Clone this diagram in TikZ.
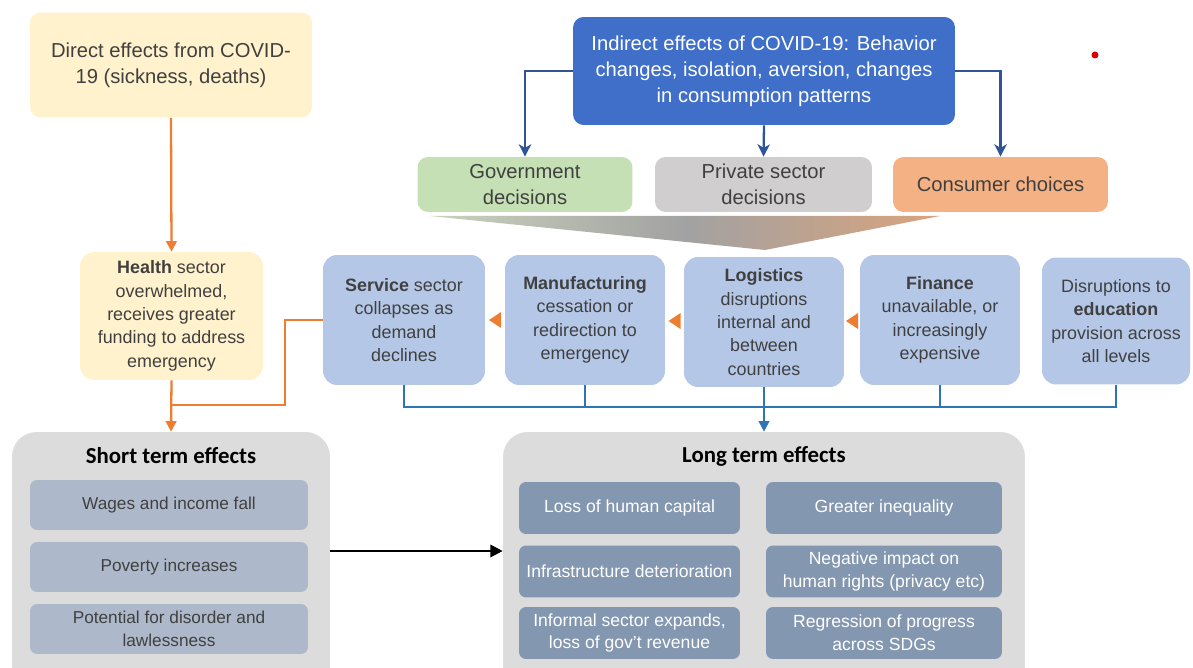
\documentclass[tikz,border=0pt]{standalone}
\usepackage{fontspec}
\setmainfont{Liberation Sans}
\newfontfamily\titlefont{Carlito}
\usetikzlibrary{arrows.meta,calc}
\definecolor{textgray}{HTML}{404040}
\definecolor{paleyellow}{HTML}{FFF2CC}
\definecolor{indirectblue}{HTML}{3F6FC9}
\definecolor{darkblue}{HTML}{2F5597}
\definecolor{govgreen}{HTML}{C5E0B4}
\definecolor{privgray}{HTML}{D0CECE}
\definecolor{consorange}{HTML}{F4B183}
\definecolor{sectorblue}{HTML}{B4C7E7}
\definecolor{lineorange}{HTML}{ED7D31}
\definecolor{busblue}{HTML}{2E75B6}
\definecolor{panelgray}{HTML}{DCDCDC}
\definecolor{shortitem}{HTML}{ADB9CA}
\definecolor{longitem}{HTML}{8497B0}
\definecolor{funnelleft}{HTML}{C9D2BC}
\definecolor{funnelmid}{HTML}{A2A2A2}
\definecolor{funnelright}{HTML}{D9A37C}

\begin{document}
\begin{tikzpicture}[x=0.02cm, y=-0.02cm,
    topbox/.style={rounded corners=6pt, align=center, text=textgray, inner sep=2pt,
      font=\fontsize{11.5}{14.7}\selectfont},
    sectorbox/.style={rounded corners=8pt, fill=sectorblue, align=center, text=textgray,
      inner sep=2pt, minimum width=3.2cm, minimum height=2.6cm,
      font=\fontsize{10.2}{13.3}\selectfont},
    panel/.style={rounded corners=14pt, fill=panelgray, minimum height=5.2cm},
    paneltitle/.style={font=\titlefont\bfseries\fontsize{13}{15}\selectfont, text=black},
    shortbox/.style={rounded corners=4pt, fill=shortitem, align=center, text=textgray,
      minimum width=5.56cm, minimum height=1cm, inner sep=1pt,
      font=\fontsize{9.8}{13}\selectfont},
    longbox/.style={rounded corners=4pt, fill=longitem, align=center, text=white,
      minimum height=1.04cm, inner sep=1pt, font=\fontsize{10}{13}\selectfont},
    orangeline/.style={draw=lineorange, line width=1.3pt},
    bluedown/.style={draw=darkblue, line width=1.3pt, -{Stealth[length=7pt,width=7pt,inset=2pt]}},
    busline/.style={draw=busblue, line width=1.1pt}]
    \clip (0,0) rectangle (1193,668);

    % Direct and indirect effects
    \node[topbox, fill=paleyellow, minimum width=5.64cm, minimum height=2.1cm] (direct) at (171,65)
        {Direct effects from COVID-\\19 (sickness, deaths)};
    \node[topbox, fill=indirectblue, text=white, minimum width=7.64cm, minimum height=2.16cm] (indirect) at (764,71)
        {Indirect effects of COVID-19: Behavior\\changes, isolation, aversion, changes\\in consumption patterns};
    \fill[red!85!black] (1095,55) circle (3.5);

    % Decision makers
    \node[topbox, fill=govgreen, minimum width=4.3cm, minimum height=1.1cm] (gov) at (525,184.5) {Government\\decisions};
    \node[topbox, fill=privgray, minimum width=4.34cm, minimum height=1.1cm] (priv) at (763.5,184.5) {Private sector\\decisions};
    \node[topbox, fill=consorange, minimum width=4.3cm, minimum height=1.1cm] (cons) at (1000.5,184.5) {Consumer choices};
    \draw[bluedown] (indirect.west) -| (gov.north);
    \draw[bluedown] (indirect.south) -- (priv.north);
    \draw[bluedown] (indirect.east) -| (cons.north);

    % Funnel below the decisions
    \shade[left color=funnelleft, right color=funnelright, middle color=funnelmid] (430,216) -- (940,216) -- (765,250) -- cycle;

    % Sectors
    \node[topbox, fill=paleyellow, minimum width=3.66cm, minimum height=2.56cm, rounded corners=8pt,
        font=\fontsize{10.2}{13.3}\selectfont] (health) at (171.5,316)
        {\textbf{Health} sector\\overwhelmed,\\receives greater\\funding to address\\emergency};
    \node[sectorbox, minimum width=3.24cm] (service) at (404,320) {\textbf{Service} sector\\collapses as\\demand\\declines};
    \node[sectorbox] (manuf) at (585,320) {\textbf{Manufacturing}\\cessation or\\redirection to\\emergency};
    \node[sectorbox] (logis) at (764,322) {\textbf{Logistics}\\disruptions\\internal and\\between\\countries};
    \node[sectorbox] (finance) at (940,320) {\textbf{Finance}\\unavailable, or\\increasingly\\expensive};
    \node[sectorbox, minimum width=2.96cm, minimum height=2.54cm] (educ) at (1116,321) {Disruptions to\\\textbf{education}\\provision across\\all levels};
    \draw[lineorange, line width=1.3pt, -{Triangle[length=6pt,width=6pt]}] (direct.south) -- (health.north);

    % Orange tips between sectors
    \foreach \a/\b in {service/manuf, manuf/logis, logis/finance}
        \fill[lineorange] ($(\a.east)!0.5!(\b.west)$) ++(-6,0) -- ++(12,-8) -- ++(0,16) -- cycle;

    % Effect panels
    \node[panel, minimum width=6.36cm] (short) at (171,562) {};
    \node[panel, minimum width=10.44cm] (long) at (764,562) {};
    \node[paneltitle] (shorttitle) at (171,456) {Short term effects};
    \node[paneltitle] (longtitle) at (764,456) {Long term effects};

    % Connectors into the panels
    \coordinate (merge) at (171,405);
    \draw[orangeline] (service.west) -- ++(-38,0) |- (merge);
    \draw[lineorange, line width=1.3pt, -{Triangle[length=6pt,width=6pt]}] (health.south) -- (short.north);
    \coordinate (bus) at (764,407);
    \draw[busline] (service.south) |- (bus);
    \draw[busline] (educ.south) |- (bus);
    \draw[busline] (manuf.south) -- (manuf.south |- bus);
    \draw[busline] (finance.south) -- (finance.south |- bus);
    \draw[busblue, line width=1.1pt, -{Triangle[length=6pt,width=6pt]}] (logis.south) -- (long.north);
    \coordinate (across) at (0,551);
    \draw[black, line width=1.3pt, -{Triangle[length=7pt,width=7pt]}] (short.east |- across) -- (long.west |- across);

    % Short term items
    \node[shortbox] (wages) at (169,505) {Wages and income fall};
    \node[shortbox] (poverty) at (169,567) {Poverty increases};
    \node[shortbox] (disorder) at (169,629) {Potential for disorder and\\lawlessness};

    % Long term items
    \node[longbox, minimum width=4.42cm] (capital) at (629.5,508) {Loss of human capital};
    \node[longbox, minimum width=4.42cm] (infra) at (629.5,571.5) {Infrastructure deterioration};
    \node[longbox, minimum width=4.42cm] (informal) at (629.5,633) {Informal sector expands,\\loss of gov't revenue};
    \node[longbox, minimum width=4.72cm] (inequality) at (884,508) {Greater inequality};
    \node[longbox, minimum width=4.72cm] (rights) at (884,571.5) {Negative impact on\\human rights (privacy etc)};
    \node[longbox, minimum width=4.72cm] (sdgs) at (884,633) {Regression of progress\\across SDGs};
\end{tikzpicture}
\end{document}
